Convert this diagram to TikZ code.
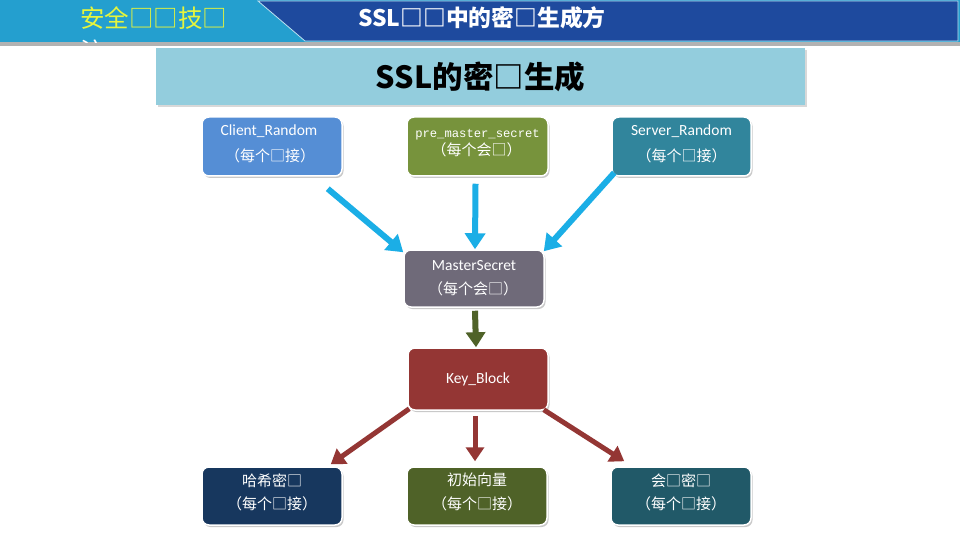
\documentclass[tikz,border=0pt]{standalone}
\usepackage{fontspec}
\setmainfont{Noto Sans CJK SC}
\newfontfamily\latinf{Carlito}
\newfontfamily\monof{Liberation Mono}
\usetikzlibrary{arrows.meta,shadows}
\definecolor{hdrlight}{HTML}{249FCF}
\definecolor{hdrdark}{HTML}{1E4A9E}
\definecolor{banner}{HTML}{93CDDD}
\definecolor{cblue}{HTML}{558ED5}
\definecolor{cgreen}{HTML}{77933C}
\definecolor{cteal}{HTML}{31859C}
\definecolor{cgray}{HTML}{6F6A79}
\definecolor{cred}{HTML}{943634}
\definecolor{cnavy}{HTML}{17375E}
\definecolor{colive}{HTML}{4F6228}
\definecolor{cdteal}{HTML}{215968}
\definecolor{acyan}{HTML}{1BAEE6}
\definecolor{titleyellow}{HTML}{E6F53C}
\tikzset{
  box/.style={rounded corners=7pt, draw=white, line width=1.5pt, minimum width=140pt,
    minimum height=59pt, inner sep=0pt,
    drop shadow={shadow xshift=1.5pt, shadow yshift=-2pt, opacity=0.35, fill=black!60}},
  lat/.style={text=white, inner sep=0pt, font=\latinf\fontsize{15.5}{16}\selectfont},
  mono/.style={text=white, inner sep=0pt, font=\monof\fontsize{12.2}{14}\selectfont},
  cjk/.style={text=white, inner sep=0pt, font=\fontsize{15}{17}\selectfont},
  cyanarrow/.style={draw=acyan, line width=6pt, -{Triangle[width=20pt,length=16pt]}},
  greenarrow/.style={draw=colive, line width=6pt, -{Triangle[width=19pt,length=15pt]}},
  redarrow/.style={draw=cred, line width=5pt, -{Triangle[width=18pt,length=14pt]}},
}
\begin{document}
\begin{tikzpicture}[x=1pt,y=-1pt]
\useasboundingbox (0,0) rectangle (960,540);
\fill[white] (0,0) rectangle (960,540);
% header
\fill[black!30] (0,42) rectangle (960,46);
\fill[hdrlight] (0,0) rectangle (960,42);
\fill[hdrdark] (258,1) -- (958,1) -- (958,41) -- (305,41) -- cycle;
\draw[white!70!hdrlight, line width=0.8pt] (258,1) -- (305,41) -- (958,41) -- (958,1) -- cycle;
\node[text=titleyellow, font=\fontsize{24.5}{26}\selectfont, anchor=west, inner sep=0pt] (lt) at (80,18) {安全□□技□};
\begin{scope}
\clip (0,0) rectangle (300,43);
\node[text=white, font=\fontsize{24.5}{26}\selectfont, anchor=west, inner sep=0pt] (lt2) at (80,51) {注};
\end{scope}
\node[text=white, font=\bfseries\fontsize{22.8}{24}\selectfont, anchor=west, inner sep=0pt] (ht) at (358,18) {SSL□□中的密□生成方};
% banner
\node[fill=banner, minimum width=649pt, minimum height=57pt, inner sep=0pt,
  drop shadow={shadow xshift=1.5pt, shadow yshift=-2pt, opacity=0.3, fill=black!50},
  font=\bfseries\fontsize{30.5}{32}\selectfont] (ban) at (480.5,76.5) {SSL的密□生成};
% boxes
\node[box, fill=cblue] (client) at (272,146.5) {};
\node[box, fill=cgreen, minimum width=141pt] (pre) at (477.5,146.5) {};
\node[box, fill=cteal, minimum width=139pt] (server) at (681.5,146.5) {};
\node[box, fill=cgray, minimum height=57pt] (master) at (474,278.5) {};
\node[box, fill=cred, minimum height=62pt] (key) at (478,379) {};
\node[box, fill=cnavy, minimum height=58pt] (hash) at (272,496) {};
\node[box, fill=colive, minimum height=58pt] (iv) at (477,496) {};
\node[box, fill=cdteal, minimum height=58pt] (sess) at (681,496) {};
% texts
\node[lat] (clientA) at ([shift={(-3,15)}]client.north) {Client\_Random};
\node[cjk] (clientB) at ([shift={(-2,40)}]client.north) {（每个□接）};
\node[mono] (preA) at ([shift={(0,18)}]pre.north) {pre\_master\_secret};
\node[cjk] (preB) at ([shift={(-1,34)}]pre.north) {（每个会□）};
\node[lat] (serverA) at ([shift={(0,15)}]server.north) {Server\_Random};
\node[cjk] (serverB) at ([shift={(0,40)}]server.north) {（每个□接）};
\node[lat] (masterA) at ([shift={(0,16)}]master.north) {MasterSecret};
\node[cjk] (masterB) at ([shift={(-1,40)}]master.north) {（每个会□）};
\node[lat] (keyA) at (key.center) {Key\_Block};
\node[cjk] (hashA) at ([shift={(0,14)}]hash.north) {哈希密□};
\node[cjk] (hashB) at ([shift={(0,38)}]hash.north) {（每个□接）};
\node[cjk] (ivA) at ([shift={(0,14)}]iv.north) {初始向量};
\node[cjk] (ivB) at ([shift={(0,38)}]iv.north) {（每个□接）};
\node[cjk] (sessA) at ([shift={(0,14)}]sess.north) {会□密□};
\node[cjk] (sessB) at ([shift={(0,38)}]sess.north) {（每个□接）};
% arrows
\draw[cyanarrow] ([shift={(-15,12)}]client.south east) -- ([shift={(0,3)}]master.north west);
\draw[cyanarrow] ([shift={(-2,7)}]pre.south) -- ([shift={(1,0)}]master.north);
\draw[cyanarrow] ([shift={(3,-4)}]server.south west) -- ([shift={(-1,2)}]master.north east);
\draw[greenarrow] ([shift={(1,3)}]master.south) -- ([shift={(-2,0)}]key.north);
\draw[redarrow] ([shift={(2,-2)}]key.south west) -- ([shift={(-12,-2)}]hash.north east);
\draw[redarrow] ([shift={(-3,5)}]key.south) -- ([shift={(-2,-5)}]iv.north);
\draw[redarrow] ([shift={(-5,-1)}]key.south east) -- ([shift={(14,-5)}]sess.north west);
\end{tikzpicture}
\end{document}
